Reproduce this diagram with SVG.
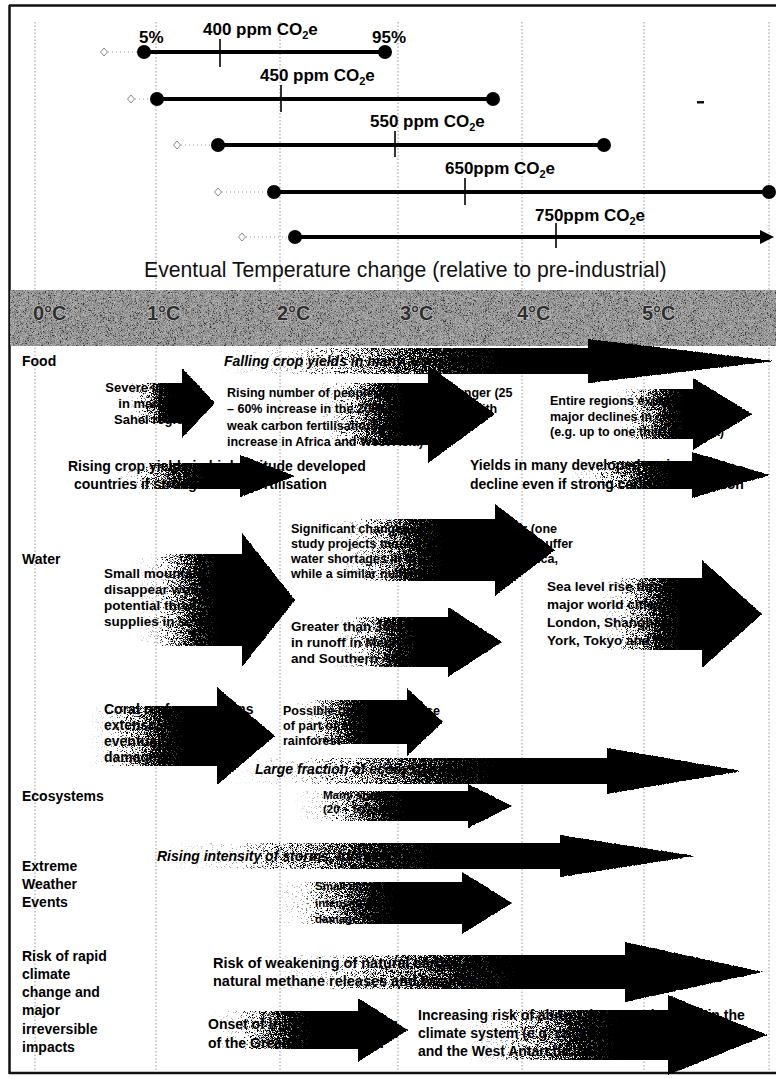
<svg xmlns="http://www.w3.org/2000/svg" width="776" height="1078" viewBox="0 0 776 1078">
<style>
.t{font-family:'Liberation Sans',Arial,sans-serif;font-weight:bold;fill:#000}
.cat{font-size:14px}
.big{font-size:14px}
.sm{font-size:12.5px}
.xs{font-size:11.5px}
.it{font-size:14px;font-style:italic}
.ppm{font-size:17px}
.temp{font-family:'Liberation Sans',Arial,sans-serif;font-weight:bold;font-size:20px;fill:#2e2e2e;stroke:#d4d4d4;stroke-width:1.2;paint-order:stroke}
.title{font-family:'Liberation Sans',Arial,sans-serif;font-size:21.2px;fill:#111}
.grid{stroke:#7a7a7a;stroke-width:0.8;stroke-dasharray:1.5 2;fill:none}
.arrow{fill:url(#fade);filter:url(#dith)}
.bar{stroke:#000;stroke-width:4;fill:none}
.tick{stroke:#000;stroke-width:1.6}
.dot{fill:#000}
.dia{fill:#fff;stroke:#888;stroke-width:1}
.lead{stroke:#999;stroke-width:1;stroke-dasharray:1 3}
</style>
<defs>
<linearGradient id="fade" x1="0" y1="0" x2="1" y2="0">
<stop offset="0" stop-color="#000" stop-opacity="0"/>
<stop offset="0.14" stop-color="#000" stop-opacity="0.08"/>
<stop offset="0.3" stop-color="#000" stop-opacity="0.5"/>
<stop offset="0.42" stop-color="#000" stop-opacity="0.9"/>
<stop offset="0.52" stop-color="#000" stop-opacity="1"/>
</linearGradient>
<filter id="dith" x="0" y="0" width="100%" height="100%">
<feTurbulence type="fractalNoise" baseFrequency="1.8" numOctaves="1" seed="9" result="n"/>
<feColorMatrix in="n" type="matrix" values="0 0 0 0 0  0 0 0 0 0  0 0 0 0 0  3 0 0 0 -1" result="na"/>
<feComposite in="SourceAlpha" in2="na" operator="arithmetic" k1="0" k2="5" k3="-4" k4="0" result="m"/>
<feFlood flood-color="#000" result="f"/>
<feComposite in="f" in2="m" operator="in"/>
</filter>
<filter id="grain" x="0" y="0" width="100%" height="100%">
<feTurbulence type="fractalNoise" baseFrequency="1.4" numOctaves="2" seed="3"/>
<feColorMatrix type="saturate" values="0"/>
<feComponentTransfer>
<feFuncR type="linear" slope="3" intercept="-1"/>
<feFuncG type="linear" slope="3" intercept="-1"/>
<feFuncB type="linear" slope="3" intercept="-1"/>
<feFuncA type="linear" slope="0" intercept="1"/>
</feComponentTransfer>
</filter>
</defs>
<rect width="776" height="1078" fill="#fff"/>

<g id="grid">
<line class="grid" x1="35" y1="22" x2="35" y2="1070"/>
<line class="grid" x1="156" y1="22" x2="156" y2="1070"/>
<line class="grid" x1="280" y1="22" x2="280" y2="1070"/>
<line class="grid" x1="398" y1="22" x2="398" y2="1070"/>
<line class="grid" x1="522" y1="22" x2="522" y2="1070"/>
<line class="grid" x1="644" y1="22" x2="644" y2="1070"/>
<line class="grid" x1="769" y1="22" x2="769" y2="1070"/>
</g>

<g id="frame" stroke="#111" fill="none">
<line x1="9.5" y1="5" x2="9.5" y2="1074" stroke-width="2.5"/>
<line x1="9" y1="5.5" x2="776" y2="5.5" stroke-width="2.5"/>
<line x1="9" y1="1073" x2="776" y2="1073" stroke-width="2.5"/>
</g>

<g id="ppm-400">
<line class="lead" x1="108" y1="52" x2="138" y2="52"/>
<path class="dia" d="M104,48 L107.5,52 L104,56 L100.5,52 Z"/>
<line class="bar" x1="144" y1="52" x2="385" y2="52"/>
<circle class="dot" cx="144" cy="52" r="7"/>
<circle class="dot" cx="385" cy="52" r="7"/>
<line class="tick" x1="220" y1="39" x2="220" y2="67"/>
<text class="t ppm" x="139" y="43">5%</text>
<text class="t ppm" x="372" y="43">95%</text>
<text class="t ppm" x="203" y="35">400 ppm CO<tspan font-size="11" dy="4">2</tspan><tspan dy="-4">e</tspan></text>
</g>
<g id="ppm-450">
<line class="lead" x1="135" y1="99" x2="150" y2="99"/>
<path class="dia" d="M131,95 L134.5,99 L131,103 L127.5,99 Z"/>
<line class="bar" x1="157" y1="99" x2="493" y2="99"/>
<circle class="dot" cx="157" cy="99" r="7"/>
<circle class="dot" cx="493" cy="99" r="7"/>
<line class="tick" x1="281" y1="85" x2="281" y2="112"/>
<text class="t ppm" x="260" y="81">450 ppm CO<tspan font-size="11" dy="4">2</tspan><tspan dy="-4">e</tspan></text>
</g>
<g id="ppm-550">
<line class="lead" x1="181" y1="145" x2="211" y2="145"/>
<path class="dia" d="M177,141 L180.5,145 L177,149 L173.5,145 Z"/>
<line class="bar" x1="218" y1="145" x2="604" y2="145"/>
<circle class="dot" cx="218" cy="145" r="7"/>
<circle class="dot" cx="604" cy="145" r="7"/>
<line class="tick" x1="395" y1="131" x2="395" y2="157"/>
<text class="t ppm" x="370" y="127">550 ppm CO<tspan font-size="11" dy="4">2</tspan><tspan dy="-4">e</tspan></text>
</g>
<g id="ppm-650">
<line class="lead" x1="222" y1="192" x2="266" y2="192"/>
<path class="dia" d="M218,188 L221.5,192 L218,196 L214.5,192 Z"/>
<line class="bar" x1="274" y1="192" x2="769" y2="192"/>
<circle class="dot" cx="274" cy="192" r="7"/>
<circle class="dot" cx="769" cy="192" r="7"/>
<line class="tick" x1="465" y1="178" x2="465" y2="205"/>
<text class="t ppm" x="445" y="174">650ppm CO<tspan font-size="11" dy="4">2</tspan><tspan dy="-4">e</tspan></text>
</g>
<g id="ppm-750">
<line class="lead" x1="246" y1="237" x2="288" y2="237"/>
<path class="dia" d="M242,233 L245.5,237 L242,241 L238.5,237 Z"/>
<line class="bar" x1="295" y1="237" x2="764" y2="237"/>
<circle class="dot" cx="295" cy="237" r="7"/>
<path d="M760,230 L774,237 L760,244 Z" fill="#000"/>
<line class="tick" x1="556" y1="223" x2="556" y2="248"/>
<text class="t ppm" x="535" y="221">750ppm CO<tspan font-size="11" dy="4">2</tspan><tspan dy="-4">e</tspan></text>
</g>
<rect x="697" y="101" width="7" height="2.5" fill="#111"/>

<g id="axis-title">
<text class="title" x="144" y="277">Eventual Temperature change (relative to pre-industrial)</text>
</g>

<g id="temp-bar">
<rect x="10" y="290" width="766" height="56" fill="#707070"/>
<rect x="10" y="290" width="766" height="56" fill="#000" filter="url(#grain)" opacity="0.5"/>
<text class="temp" x="33" y="320">0°C</text>
<text class="temp" x="147" y="320">1°C</text>
<text class="temp" x="277" y="320">2°C</text>
<text class="temp" x="400" y="320">3°C</text>
<text class="temp" x="517" y="320">4°C</text>
<text class="temp" x="642" y="320">5°C</text>
</g>

<g id="categories">
<text class="t cat" x="22" y="366">Food</text>
<text class="t cat" x="22" y="564">Water</text>
<text class="t cat" x="22" y="801">Ecosystems</text>
<text class="t cat"><tspan x="22" y="871">Extreme</tspan><tspan x="22" y="889">Weather</tspan><tspan x="22" y="907">Events</tspan></text>
<text class="t cat"><tspan x="22" y="961">Risk of rapid</tspan><tspan x="22" y="979">climate</tspan><tspan x="22" y="997">change and</tspan><tspan x="22" y="1015">major</tspan><tspan x="22" y="1034">irreversible</tspan><tspan x="22" y="1052">impacts</tspan></text>
</g>

<g id="food-falling-yields">
<text class="t it" x="224" y="366">Falling crop yields in many areas, particularly developing regions</text>
<path class="arrow" d="M215,348 L588,348 L588,339 L775,361 L588,383 L588,374 L215,374 Z"/>
</g>
<g id="food-sahel">
<text class="t" font-size="13" text-anchor="middle"><tspan x="153" y="392">Severe impacts</tspan><tspan x="153" y="408">in marginal</tspan><tspan x="153" y="424">Sahel region</tspan></text>
<path class="arrow" d="M125,383 L182,383 L182,368 L215,403 L182,438 L182,423 L125,423 Z"/>
</g>
<g id="food-hunger">
<text class="t sm"><tspan x="227" y="397">Rising number of people at risk from hunger (25</tspan><tspan x="227" y="413">– 60% increase in the 2080s in one study with</tspan><tspan x="227" y="430">weak carbon fertilisation), with half of the</tspan><tspan x="227" y="446">increase in Africa and West Asia)</tspan></text>
<path class="arrow" d="M309,383 L428,383 L428,365 L495,414 L428,463 L428,445 L309,445 Z"/>
</g>
<g id="food-regions">
<text class="t sm"><tspan x="550" y="405">Entire regions experience</tspan><tspan x="550" y="421">major declines in crop yields</tspan><tspan x="550" y="436">(e.g. up to one third in Africa)</tspan></text>
<path class="arrow" d="M610,389 L693,389 L693,378 L752,414 L693,450 L693,439 L610,439 Z"/>
</g>
<g id="food-rising-yields">
<text class="t big"><tspan x="68" y="471">Rising crop yields in high-latitude developed</tspan><tspan x="74" y="489">countries if strong carbon fertilisation</tspan></text>
<path class="arrow" d="M109,463 L240,463 L240,455 L295,476 L240,497 L240,489 L109,489 Z"/>
</g>
<g id="food-developed-decline">
<text class="t big"><tspan x="470" y="470">Yields in many developed regions</tspan><tspan x="470" y="489">decline even if strong carbon fertilisation</tspan></text>
<path class="arrow" d="M565,461 L692,461 L692,452 L770,475 L692,498 L692,489 L565,489 Z"/>
</g>

<g id="water-glaciers">
<text class="t" font-size="13.5"><tspan x="104" y="578">Small mountain glaciers</tspan><tspan x="104" y="594">disappear worldwide –</tspan><tspan x="104" y="610">potential threat to water</tspan><tspan x="104" y="626">supplies in several areas</tspan></text>
<path class="arrow" d="M134,554 L242,554 L242,533 L295,600 L242,667 L242,646 L134,646 Z"/>
</g>
<g id="water-availability">
<text class="t sm"><tspan x="291" y="533">Significant changes in water availability (one</tspan><tspan x="291" y="548">study projects more than a billion people suffer</tspan><tspan x="291" y="563">water shortages in the 2080s, many in Africa,</tspan><tspan x="291" y="578">while a similar number gain water)</tspan></text>
<path class="arrow" d="M324,519 L495,519 L495,504 L555,550 L495,596 L495,581 L324,581 Z"/>
</g>
<g id="water-runoff">
<text class="t" font-size="13.5"><tspan x="291" y="631">Greater than 30% decrease</tspan><tspan x="291" y="647">in runoff in Mediterranean</tspan><tspan x="291" y="663">and Southern Africa</tspan></text>
<path class="arrow" d="M327,617 L448,617 L448,607 L502,642 L448,677 L448,667 L327,667 Z"/>
</g>
<g id="water-sea-level">
<text class="t" font-size="13.5"><tspan x="547" y="591">Sea level rise threatens</tspan><tspan x="547" y="609">major world cities, including</tspan><tspan x="547" y="627">London, Shanghai, New</tspan><tspan x="547" y="645">York, Tokyo and Hong Kong</tspan></text>
<path class="arrow" d="M595,578 L702,578 L702,560 L762,614 L702,668 L702,650 L595,650 Z"/>
</g>

<g id="eco-coral">
<text class="t big"><tspan x="104" y="714">Coral reef ecosystems</tspan><tspan x="104" y="730">extensively and</tspan><tspan x="104" y="746">eventually irreversibly</tspan><tspan x="104" y="762">damaged</tspan></text>
<path class="arrow" d="M88,706 L217,706 L217,687 L275,736 L217,785 L217,766 L88,766 Z"/>
</g>
<g id="eco-amazon">
<text class="t sm"><tspan x="283" y="715">Possible onset of collapse</tspan><tspan x="283" y="730">of part or all of Amazon</tspan><tspan x="283" y="745">rainforest</tspan></text>
<path class="arrow" d="M290,700 L407,700 L407,688 L443,722 L407,756 L407,744 L290,744 Z"/>
</g>
<g id="eco-fraction">
<text class="t it" x="255" y="774">Large fraction of ecosystems unable to maintain current form</text>
<path class="arrow" d="M231,758 L607,758 L607,748 L742,771 L607,794 L607,784 L231,784 Z"/>
</g>
<g id="eco-species">
<text class="t xs"><tspan x="323" y="799">Many species face extinction</tspan><tspan x="323" y="813">(20 – 50% in one study)</tspan></text>
<path class="arrow" d="M293,791 L468,791 L468,784 L512,806 L468,828 L468,821 L293,821 Z"/>
</g>

<g id="weather-storms">
<text class="t it" x="157" y="861">Rising intensity of storms, forest fires, droughts, flooding and heat waves</text>
<path class="arrow" d="M165,843 L560,843 L560,835 L695,856 L560,877 L560,869 L165,869 Z"/>
</g>
<g id="weather-hurricane">
<text class="t xs"><tspan x="315" y="890">Small increases in hurricane</tspan><tspan x="315" y="907">intensity lead to a doubling of</tspan><tspan x="315" y="923">damage costs in the US</tspan></text>
<path class="arrow" d="M270,882 L462,882 L462,872 L512,903 L462,934 L462,924 L270,924 Z"/>
</g>

<g id="risk-carbon">
<text class="t" font-size="14.5"><tspan x="213" y="968">Risk of weakening of natural carbon absorption and possible increasing</tspan><tspan x="213" y="986">natural methane releases and weakening of the Atlantic THC</tspan></text>
<path class="arrow" d="M255,955 L625,955 L625,942 L763,972 L625,1002 L625,989 L255,989 Z"/>
</g>
<g id="risk-greenland">
<text class="t big"><tspan x="208" y="1029">Onset of irreversible melting</tspan><tspan x="208" y="1048">of the Greenland ice sheet</tspan></text>
<path class="arrow" d="M209,1011 L358,1011 L358,998 L408,1030 L358,1062 L358,1049 L209,1049 Z"/>
</g>
<g id="risk-abrupt">
<text class="t big"><tspan x="418" y="1020">Increasing risk of abrupt, large-scale shifts in the</tspan><tspan x="418" y="1038">climate system (e.g. collapse of the Atlantic THC</tspan><tspan x="418" y="1056">and the West Antarctic Ice Sheet)</tspan></text>
<path class="arrow" d="M458,1010 L668,1010 L668,995 L767,1035 L668,1075 L668,1060 L458,1060 Z"/>
</g>
</svg>
